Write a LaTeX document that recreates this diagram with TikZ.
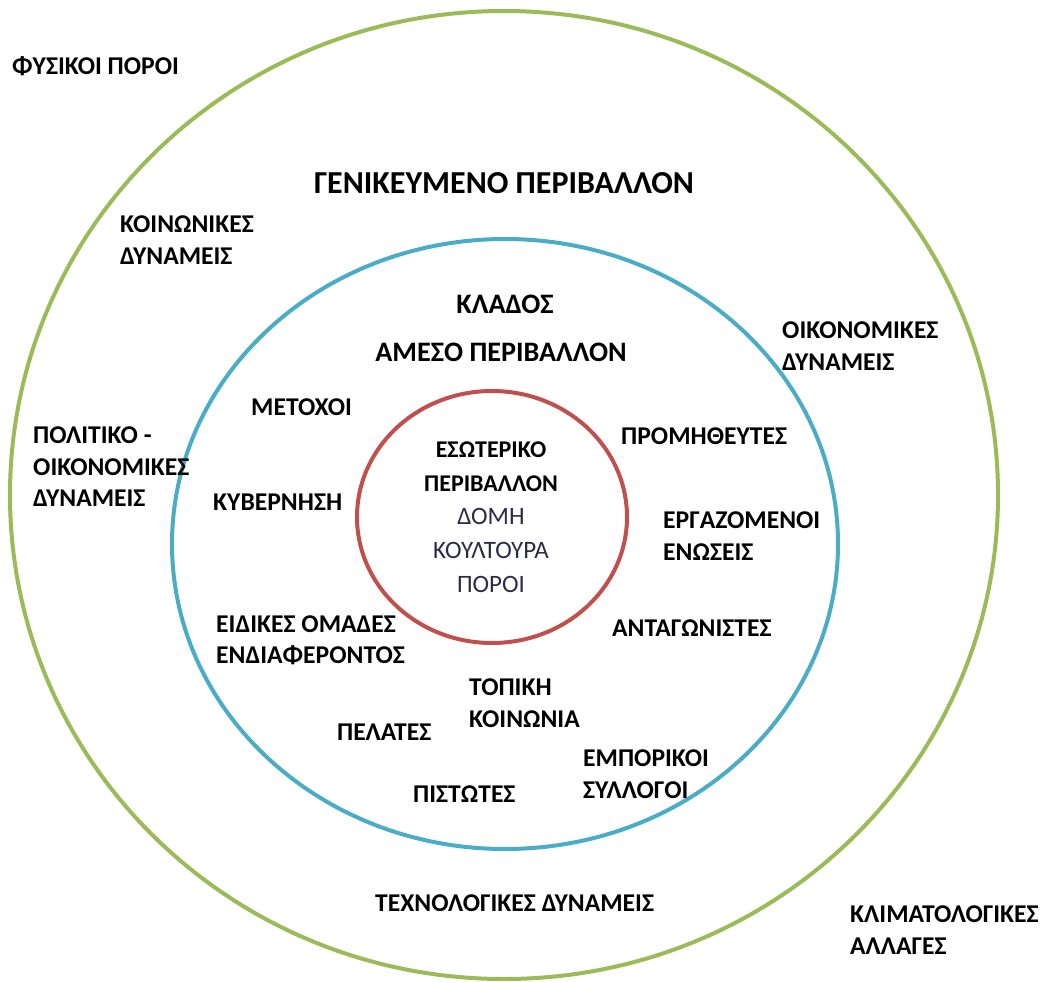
\documentclass[tikz,border=0pt]{standalone}
\usepackage{fontspec}
\setmainfont{Carlito}
\definecolor{outergreen}{HTML}{9BBB59}
\definecolor{midblue}{HTML}{4BACC6}
\definecolor{innerred}{HTML}{C0504D}
\definecolor{softtext}{HTML}{2B2B45}

\tikzset{lbl/.style={anchor=west,inner sep=0pt,align=left,font=\bfseries\fontsize{25.6}{31.5}\selectfont}}
\tikzset{bigtitle/.style={inner sep=0pt,font=\bfseries\fontsize{32}{38}\selectfont}}
\tikzset{midtitle/.style={inner sep=0pt,font=\bfseries\fontsize{28.2}{34}\selectfont}}
\tikzset{ring/.style={line width=4pt}}

\begin{document}
\begin{tikzpicture}[x=1pt,y=-1pt]
\useasboundingbox (0,0) rectangle (1046,982);
\draw[ring,outergreen] (504,495) ellipse (494pt and 484pt);
\draw[ring,midblue] (505,544) ellipse (333pt and 305pt);
\draw[ring,innerred] (492,517) ellipse (135pt and 126pt);

\node[lbl] (fysikoi) at (12,66) {ΦΥΣΙΚΟΙ ΠΟΡΟΙ};
\node[bigtitle] (geniko) at (504,183) {ΓΕΝΙΚΕΥΜΕΝΟ ΠΕΡΙΒΆΛΛΟΝ};
\node[lbl] (koinonikes) at (120,240) {ΚΟΙΝΩΝΙΚΕΣ\\ΔΥΝΑΜΕΙΣ};
\node[lbl] (oikonomikes) at (782,346) {ΟΙΚΟΝΟΜΙΚΕΣ\\ΔΥΝΑΜΕΙΣ};
\node[lbl] (politiko) at (33,467) {ΠΟΛΙΤΙΚΟ -\\ΟΙΚΟΝΟΜΙΚΕΣ\\ΔΥΝΑΜΕΙΣ};
\node[lbl] (texnologikes) at (375,903) {ΤΕΧΝΟΛΟΓΙΚΕΣ ΔΥΝΑΜΕΙΣ};
\node[lbl] (klimatologikes) at (850,930) {ΚΛΙΜΑΤΟΛΟΓΙΚΕΣ\\ΑΛΛΑΓΕΣ};

\node[midtitle] (klados) at (505,304) {ΚΛΑΔΟΣ};
\node[midtitle] (ameso) at (501,352) {ΑΜΕΣΟ ΠΕΡΙΒΑΛΛΟΝ};
\node[lbl] (metoxoi) at (251,407) {ΜΕΤΟΧΟΙ};
\node[lbl] (promitheutes) at (621,436) {ΠΡΟΜΗΘΕΥΤΕΣ};
\node[lbl] (kyvernisi) at (213,502) {ΚΥΒΕΡΝΗΣΗ};
\node[lbl] (ergazomenoi) at (663,536) {ΕΡΓΑΖΟΜΕΝΟΙ\\ΕΝΩΣΕΙΣ};
\node[lbl] (antagonistes) at (612,628) {ΑΝΤΑΓΩΝΙΣΤΕΣ};
\node[lbl] (eidikes) at (216,640) {ΕΙΔΙΚΕΣ ΟΜΑΔΕΣ\\ΕΝΔΙΑΦΕΡΟΝΤΟΣ};
\node[lbl] (topiki) at (469,703) {ΤΟΠΙΚΗ\\ΚΟΙΝΩΝΙΑ};
\node[lbl] (pelates) at (337,732) {ΠΕΛΑΤΕΣ};
\node[lbl] (emporikoi) at (583,774) {ΕΜΠΟΡΙΚΟΙ\\ΣΥΛΛΟΓΟΙ};
\node[lbl] (pistotes) at (413,794) {ΠΙΣΤΩΤΕΣ};

\node[inner sep=0pt,align=center,text=softtext,font=\fontsize{25}{33.7}\selectfont] (esoteriko) at (491,517)
  {\textcolor{black}{\bfseries\fontsize{24}{33.7}\selectfont ΕΣΩΤΕΡΙΚΟ}\\\textcolor{black}{\bfseries\fontsize{24}{33.7}\selectfont ΠΕΡΙΒΑΛΛΟΝ}\\ΔΟΜΗ\\ΚΟΥΛΤΟΥΡΑ\\ΠΟΡΟΙ};
\end{tikzpicture}
\end{document}
